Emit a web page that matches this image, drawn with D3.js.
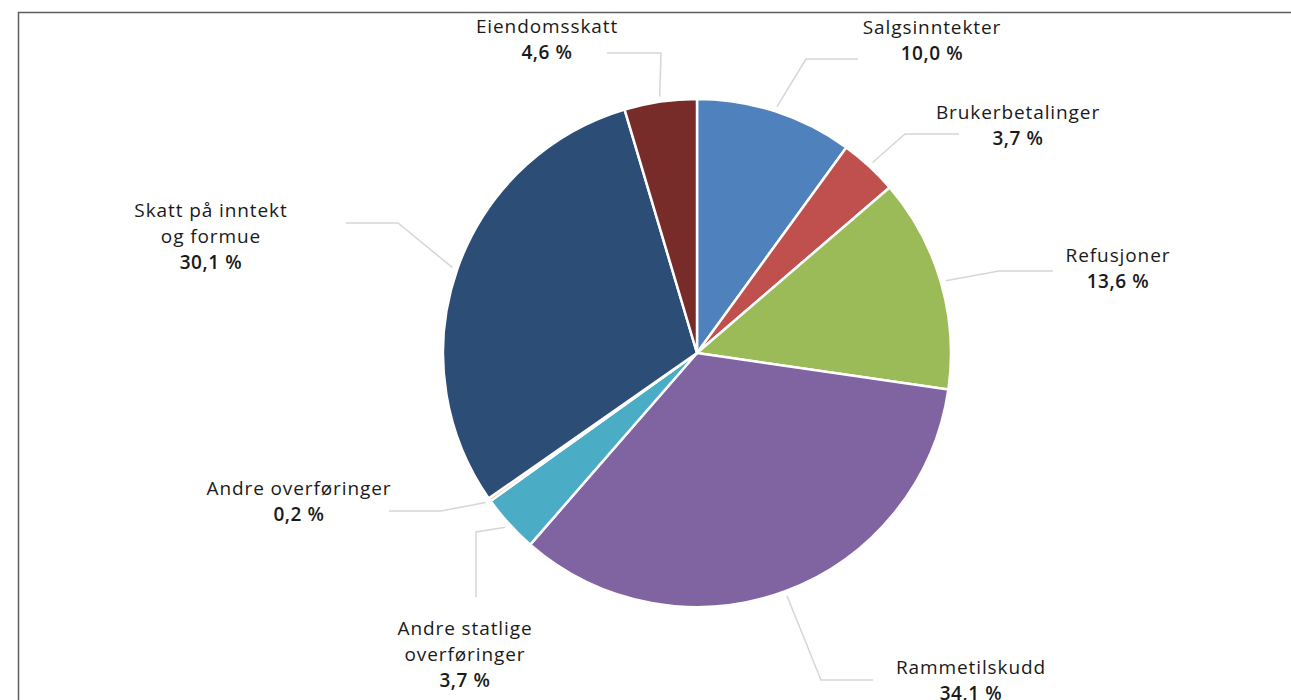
<!DOCTYPE html>
<html>
<head>
<meta charset="utf-8">
<script src="https://cdn.jsdelivr.net/npm/d3@7"></script>
<style>
  body { margin: 0; background: #fff; }
  text { font-family: "Open Sans", sans-serif; fill: #1a1a1a; }
</style>
</head>
<body>
<div id="chart"></div>
<script>
// slices, clockwise from 12 o'clock
var categories = ["Salgsinntekter", "Brukerbetalinger", "Refusjoner", "Rammetilskudd",
                  "Andre statlige overføringer", "Andre overføringer", "Skatt på inntekt og formue", "Eiendomsskatt"];
var shares = [10.0, 3.7, 13.6, 34.1, 3.7, 0.2, 30.1, 4.6];
var colours = ["#4f81bd", "#c0504d", "#9bbb59", "#8064a2", "#4bacc6", "#f79646", "#2c4d75", "#772c2a"];
// how each label is broken into lines
var labelLines = [["Salgsinntekter"], ["Brukerbetalinger"], ["Refusjoner"], ["Rammetilskudd"],
                  ["Andre statlige", "overføringer"], ["Andre overføringer"], ["Skatt på inntekt", "og formue"], ["Eiendomsskatt"]];

// label placement: text centre x, first baseline y, leader elbow, leader end
var labelPos = [
  {x: 932, y: 34, elbow: [806, 59], end: [858, 59]},
  {x: 1018, y: 119, elbow: [905, 134], end: [959, 134]},
  {x: 1118, y: 262, elbow: [999, 271], end: [1053, 271]},
  {x: 971, y: 674, elbow: [821, 680], end: [873, 680]},
  {x: 465, y: 635, elbow: [476, 532], end: [476, 597]},
  {x: 299, y: 495, elbow: [441, 511], end: [389, 511]},
  {x: 211, y: 217, elbow: [398, 223], end: [346, 223]},
  {x: 547, y: 33, elbow: [661, 53], end: [607, 53]}
];

var w = 1291;
var h = 700;
var cx = 697, cy = 353, r = 254;

var svg = d3.select("#chart")
            .append("svg")
            .attr("width", w)
            .attr("height", h);

// chart frame (runs off the picture to the right and bottom)
svg.append("rect")
   .attr("x", 18.5).attr("y", 12.5)
   .attr("width", 1400).attr("height", 800)
   .attr("fill", "none")
   .attr("stroke", "#5e5e5e")
   .attr("stroke-width", 1.5);

var data = categories.map(function(c, i){
    return {name: c, value: shares[i], colour: colours[i], lines: labelLines[i], pos: labelPos[i]};
});

var pie = d3.pie().sort(null).value(function(d){ return d.value; });
var arc = d3.arc().innerRadius(0).outerRadius(r);
var arcs = pie(data);

var g = svg.append("g").attr("transform", "translate(" + cx + "," + cy + ")");

g.selectAll("path")
 .data(arcs)
 .enter()
 .append("path")
 .attr("d", arc)
 .attr("fill", function(d){ return d.data.colour; })
 .attr("stroke", "#fff")
 .attr("stroke-width", 2.5)
 .attr("stroke-linejoin", "round");

// leader lines: from just outside the slice middle to the elbow, then to the label
var outer = d3.arc().innerRadius(r + 5).outerRadius(r + 5);
svg.selectAll("polyline.leader")
   .data(arcs)
   .enter()
   .append("polyline")
   .attr("class", "leader")
   .attr("points", function(d){
       var c = outer.centroid(d);
       return [[cx + c[0], cy + c[1]], d.data.pos.elbow, d.data.pos.end].join(" ");
   })
   .attr("fill", "none")
   .attr("stroke", "#d6d6d6")
   .attr("stroke-width", 1.5);

var fmt = function(v){ return v.toFixed(1).replace(".", ",") + " %"; };

var labels = svg.selectAll("text.lbl")
   .data(arcs)
   .enter()
   .append("text")
   .attr("class", "lbl")
   .attr("text-anchor", "middle")
   .attr("font-size", "19px")
   .attr("x", function(d){ return d.data.pos.x; })
   .attr("y", function(d){ return d.data.pos.y; });

labels.each(function(d){
    var t = d3.select(this);
    d.data.lines.forEach(function(line, i){
        t.append("tspan")
         .attr("x", d.data.pos.x)
         .attr("dy", i === 0 ? 0 : 26)
         .attr("letter-spacing", "0.9px")
         .text(line);
    });
    t.append("tspan")
     .attr("x", d.data.pos.x)
     .attr("dy", 26)
     .attr("font-weight", 600)
     .attr("letter-spacing", "0.6px")
     .text(fmt(d.data.value));
});
</script>
</body>
</html>
